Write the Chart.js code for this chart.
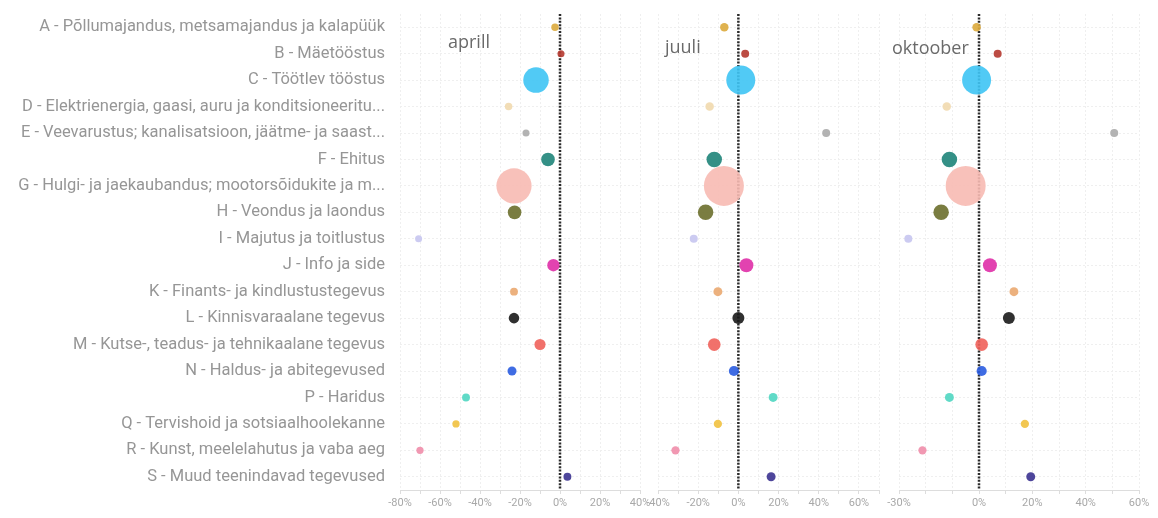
<!DOCTYPE html>
<html lang="et">
<head>
  <meta charset="UTF-8">
  <title>Muutus tegevusalade kaupa</title>
  <script src="https://cdn.jsdelivr.net/npm/chart.js"></script>
  <style>
    body { margin: 0; background: #fff; width: 1158px; height: 518px; position: relative; overflow: hidden; }
    .paneel { position: absolute; top: 0; height: 518px; }
    .kuu { position: absolute; font-family: "Open Sans", sans-serif; font-size: 18px; line-height: 18px; color: #6a6a6a; }
  </style>
</head>
<body>
  <div class="paneel" style="left:0;width:660px"><canvas id="aprill"></canvas></div>
  <div class="paneel" style="left:640px;width:260px"><canvas id="juuli"></canvas></div>
  <div class="paneel" style="left:880px;width:278px"><canvas id="oktoober"></canvas></div>
  <div class="kuu" style="left:448px;top:32px">aprill</div>
  <div class="kuu" style="left:665px;top:37px">juuli</div>
  <div class="kuu" style="left:892px;top:38px">oktoober</div>

  <script>
    const kategooriad = [
      "A - Põllumajandus, metsamajandus ja kalapüük",
      "B - Mäetööstus",
      "C - Töötlev tööstus",
      "D - Elektrienergia, gaasi, auru ja konditsioneeritu...",
      "E - Veevarustus; kanalisatsioon, jäätme- ja saast...",
      "F - Ehitus",
      "G - Hulgi- ja jaekaubandus; mootorsõidukite ja m...",
      "H - Veondus ja laondus",
      "I - Majutus ja toitlustus",
      "J - Info ja side",
      "K - Finants- ja kindlustustegevus",
      "L - Kinnisvaraalane tegevus",
      "M - Kutse-, teadus- ja tehnikaalane tegevus",
      "N - Haldus- ja abitegevused",
      "P - Haridus",
      "Q - Tervishoid ja sotsiaalhoolekanne",
      "R - Kunst, meelelahutus ja vaba aeg",
      "S - Muud teenindavad tegevused"
    ];

    // muutus, %
    const aprill   = [-2.5, 0.5, -12, -25.7, -17, -6, -23, -22.7, -70.7, -3.3, -23, -23, -10, -24, -47, -52, -70, 3.7];
    const juuli    = [-7, 3.4, 1.2, -14.3, 43.7, -12, -7.2, -16.3, -22.2, 4, -10.2, 0, -12, -2.2, 17.3, -10.2, -31.3, 16.3];
    const oktoober = [-0.9, 7.0, -0.9, -12.1, 50.7, -11.1, -5.0, -14.2, -26.5, 4.1, 13.1, 11.2, 1.0, 1.0, -11.1, 17.2, -21.2, 19.4];

    // mulli suurus (suhteline)
    const mullisuurus = [18, 16, 210, 18, 16, 60, 400, 60, 16, 49, 20, 36, 40, 26, 20, 17, 17, 20];

    // telgede märgised
    const aprillTicks   = [-80, -60, -40, -20, 0, 20, 40];
    const juuliTicks    = [-40, -20, 0, 20, 40, 60];
    const oktooberTicks = [-30, 0, 20, 40, 60];

    const varvid = ["#dcaa3c", "#b5392f", "#3ec4f4", "#f1d9ae", "#ababab", "#1e8479", "#f7bab2", "#6c6f2c",
                    "#c7c5ef", "#df2fa7", "#eaa970", "#1a1a1a", "#ef625b", "#2a5ce0", "#4fd6c1", "#f1c13f",
                    "#f08daa", "#3b3290"];

    const nulljoon = {
      id: 'nulljoon',
      beforeDatasetsDraw(chart) {
        const x = chart.scales.x.getPixelForValue(0);
        const { top, bottom } = chart.chartArea;
        const ctx = chart.ctx;
        ctx.save();
        ctx.strokeStyle = '#2b2b2b';
        ctx.lineWidth = 2.5;
        ctx.setLineDash([2, 1.4]);
        ctx.beginPath();
        ctx.moveTo(x, top);
        ctx.lineTo(x, bottom);
        ctx.stroke();
        ctx.restore();
      }
    };

    function teeGraafik(id, vaartused, min, max, ticks, tegur, padding, yTelg) {
      const punktid = vaartused.map((v, i) => ({ x: v, y: kategooriad[i], r: Math.sqrt(mullisuurus[i]) * tegur }));

      new Chart(document.getElementById(id), {
        type: 'bubble',
        data: {
          datasets: [{
            data: punktid,
            backgroundColor: varvid.map(c => c + 'e6'),
            borderWidth: 0,
            hoverBorderWidth: 0
          }]
        },
        options: {
          responsive: true,
          maintainAspectRatio: false,
          animation: false,
          layout: { padding: padding, autoPadding: false },
          plugins: { legend: { display: false }, tooltip: { enabled: false } },
          scales: {
            x: {
              type: 'linear',
              min: min,
              max: max,
              grid: { color: '#efefef', tickColor: '#dddddd', tickLength: 4 },
              border: { display: true, color: '#dddddd', dash: [2, 2] },
              ticks: {
                stepSize: 10,
                autoSkip: false,
                maxRotation: 0,
                padding: 3,
                color: '#a8a8a8',
                font: { family: 'Roboto', size: 11 },
                callback: v => ticks.includes(v) ? v + '%' : ''
              },
              afterFit(s) { s.height = 28; }
            },
            y: {
              type: 'category',
              labels: kategooriad,
              offset: true,
              grid: { offset: false, color: '#efefef', drawTicks: false },
              border: { display: false, dash: [2, 2] },
              ticks: {
                display: yTelg,
                autoSkip: false,
                padding: 15,
                color: '#969696',
                font: { family: 'Roboto', size: 16.5 }
              },
              afterFit(s) {
                s.width = yTelg ? 400 : 0;
                s.paddingTop = 0;
                s.paddingBottom = 0;
              }
            }
          }
        },
        plugins: [nulljoon]
      });
    }

    teeGraafik('aprill', aprill, -80, 40, aprillTicks, 0.88, { left: 0, right: 20, top: 14, bottom: 0 }, true);
    teeGraafik('juuli', juuli, -40, 70, juuliTicks, 1.0, { left: 18, right: 21, top: 14, bottom: 0 }, false);
    teeGraafik('oktoober', oktoober, -30, 60, oktooberTicks, 1.0, { left: 19, right: 19, top: 14, bottom: 0 }, false);
  </script>
</body>
</html>
